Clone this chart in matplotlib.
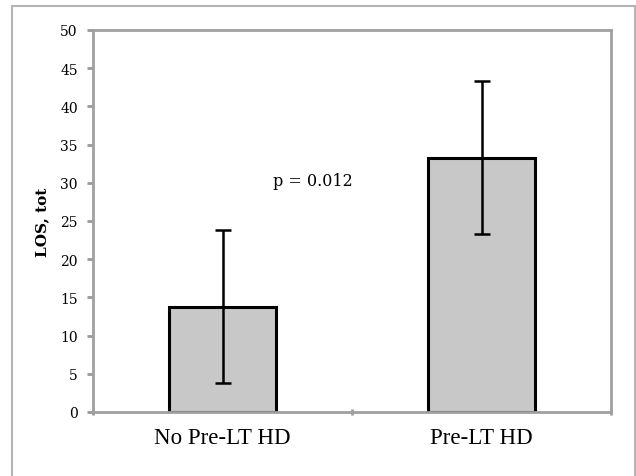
import matplotlib
matplotlib.use("Agg")
import matplotlib.pyplot as plt
from matplotlib.patches import Rectangle

categories = ["No Pre-LT HD", "Pre-LT HD"]
means = [13.8, 33.3]
errors = [10.0, 10.0]
yticks = [0, 5, 10, 15, 20, 25, 30, 35, 40, 45, 50]
p_text = "p = 0.012"
ylabel = "LOS, tot"

fig = plt.figure(figsize=(6.36, 4.77), dpi=100)
# outer frame
fig.patches.append(Rectangle((12/636, -0.05), (635-12)/636, 1.05 - 7/477,
                             transform=fig.transFigure, fill=False,
                             edgecolor="#b4b4b4", lw=1.5))

ax = fig.add_axes([93/636, (477-413)/477, (611-93)/636, (413-31)/477])
x = [0, 1]
ax.bar(x, means, width=0.41, color="#c8c8c8", edgecolor="black", linewidth=2.2, zorder=2)
ax.errorbar(x, means, yerr=errors, fmt="none", ecolor="black", elinewidth=1.8,
            capsize=5.5, capthick=1.8, zorder=3)

ax.set_xlim(-0.5, 1.5)
ax.set_ylim(0, 50)
ax.set_yticks(yticks)
ax.set_yticklabels([str(t) for t in yticks], fontfamily="DejaVu Serif", fontsize=10)
ax.set_xticks([-0.5, 0.5, 1.5])
ax.set_xticklabels([])
ax.set_xticks(x, minor=True)
ax.set_xticklabels(categories, minor=True, fontfamily="Liberation Serif", fontsize=16.5)
ax.tick_params(axis="x", which="minor", length=0, pad=11)
ax.tick_params(axis="x", which="major", length=5, width=2, color="#999999", direction="inout")
ax.tick_params(axis="y", length=4, width=2, color="#999999", pad=7)
for s in ax.spines.values():
    s.set_color("#a0a0a0")
    s.set_linewidth(2)
ax.set_ylabel(ylabel, fontfamily="DejaVu Serif", fontweight="bold", fontsize=11, labelpad=8)
ax.text(0.195, 30.3, p_text, fontfamily="DejaVu Serif", fontsize=11.5, va="center", ha="left")

fig.savefig("out.png", dpi=100)
